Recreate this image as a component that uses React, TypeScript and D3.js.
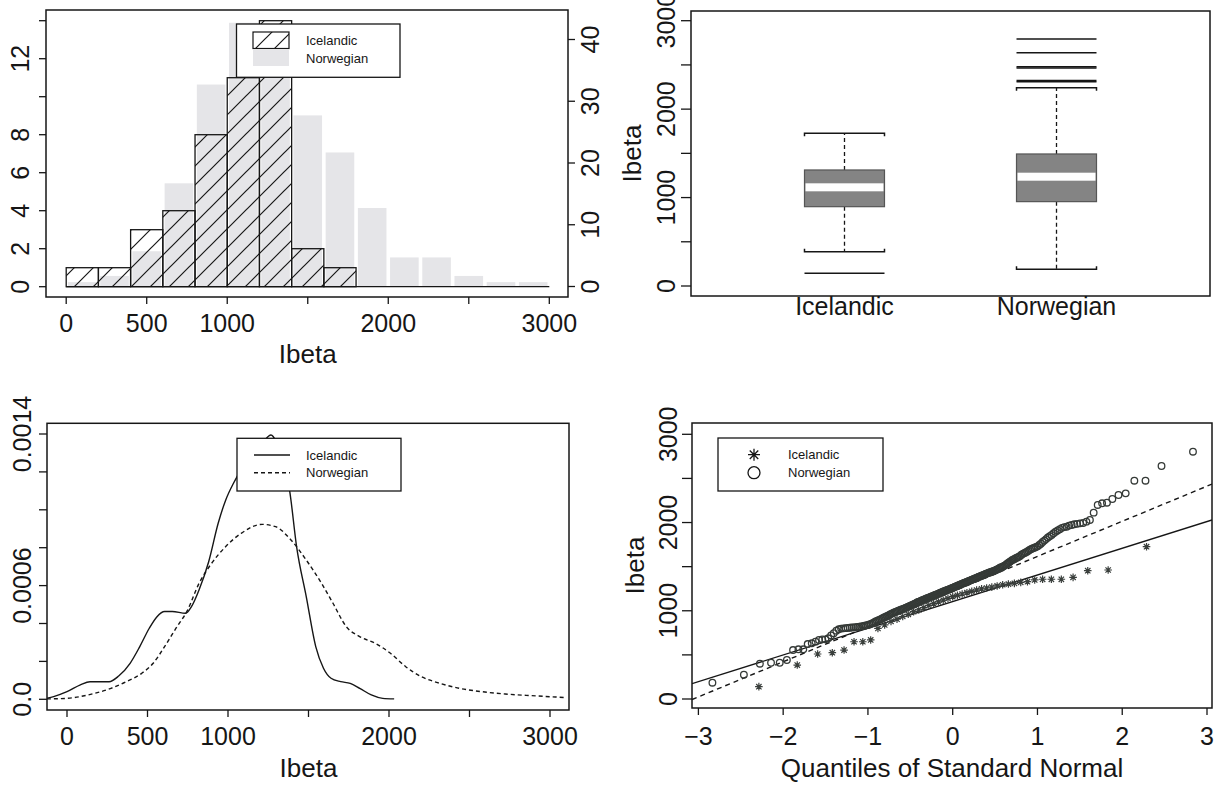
import React from "react";
import * as d3 from "d3";

const FONT = '"Liberation Sans", Arial, Helvetica, sans-serif';
const INK = "#161616";

// ---------------- Panel 1: histograms ----------------
const seriesNames = ["Icelandic", "Norwegian"];
const histBinStarts = [0, 200, 400, 600, 800, 1000, 1200, 1400, 1600, 1800, 2000, 2200, 2400, 2600, 2800];
const histBinWidth = 200;
const icelandicCounts = [1, 1, 3, 4, 8, 11, 14, 2, 1, 0, 0, 0, 0, 0, 0];
const norwegianCounts = [1, 2, 6, 17, 33, 43, 39, 28, 22, 13, 5, 5, 2, 1, 1];
const histXTicks = [0, 500, 1000, 1500, 2000, 2500, 3000];
const histXTickLabels = ["0", "500", "1000", "", "2000", "", "3000"];
const histLeftTicks = [0, 2, 4, 6, 8, 10, 12, 14];
const histLeftTickLabels = ["0", "2", "4", "6", "8", "", "12", ""];
const histRightTicks = [0, 10, 20, 30, 40];
const histRightTickLabels = ["0", "10", "20", "30", "40"];

// ---------------- Panel 2: boxplots ----------------
const boxCategories = ["Icelandic", "Norwegian"];
const boxLowerWhisker = [388, 188];
const boxQ1 = [897, 954];
const boxMedian = [1116, 1236];
const boxQ3 = [1312, 1493];
const boxUpperWhisker = [1726, 2243];
const boxOutliers = [[143], [2310, 2325, 2465, 2478, 2638, 2793]];
const boxYTicks = [0, 500, 1000, 1500, 2000, 2500, 3000];
const boxYTickLabels = ["0", "", "1000", "", "2000", "", "3000"];

// ---------------- Panel 3: densities ----------------
const densIcelandicX = [-125, -83, 0, 83, 143, 202, 261, 321, 392, 452, 511, 559, 606, 654, 737, 773, 820, 880, 939, 986, 1034, 1082, 1150, 1220, 1267, 1330, 1383, 1426, 1486, 1545, 1593, 1640, 1700, 1759, 1818, 1890, 1961, 2032];
const densIcelandicY = [0.000005, 0.000014, 0.00004, 0.000076, 0.000093, 0.000093, 0.000093, 0.000123, 0.00019, 0.000278, 0.000375, 0.000436, 0.000463, 0.000463, 0.000454, 0.000489, 0.000577, 0.000726, 0.000929, 0.001052, 0.00114, 0.00121, 0.00128, 0.00136, 0.001395, 0.00128, 0.0011, 0.000806, 0.000542, 0.000278, 0.000164, 0.000111, 0.000093, 0.000084, 0.000058, 0.000023, 0.000005, 0.000002];
const densNorwegianX = [-125, 0, 131, 273, 368, 464, 535, 606, 677, 749, 820, 891, 986, 1082, 1212, 1295, 1391, 1486, 1581, 1652, 1735, 1818, 1913, 2009, 2104, 2199, 2318, 2436, 2579, 2722, 2912, 3102];
const densNorwegianY = [0.000002, 0.000005, 0.000023, 0.000058, 0.000093, 0.000137, 0.00019, 0.000278, 0.000375, 0.000471, 0.000612, 0.000709, 0.000806, 0.000876, 0.000923, 0.000911, 0.000841, 0.000735, 0.000612, 0.000507, 0.000383, 0.000331, 0.000296, 0.000243, 0.000172, 0.00012, 0.000084, 0.000058, 0.00004, 0.000028, 0.000018, 0.000009];
const densYTicks = [0, 0.0002, 0.0004, 0.0006, 0.0008, 0.001, 0.0012, 0.0014];
const densYTickLabels = ["0.0", "", "", "0.0006", "", "", "", "0.0014"];

// ---------------- Panel 4: normal QQ ----------------
const qqIcelandic = [140, 385, 510, 525, 555, 649, 649, 669, 800, 840,
  880, 905, 935, 960, 990, 1010, 1035, 1060, 1080, 1100,
  1120, 1140, 1160, 1175, 1190, 1205, 1220, 1235, 1248, 1258,
  1268, 1281, 1295, 1303, 1311, 1322, 1330, 1349, 1357, 1357,
  1357, 1379, 1454, 1462, 1726];
const qqNorwegian = [185, 275, 400, 411, 411, 442, 555, 563, 563, 623, 631, 650, 669, 676, 676, 688, 720, 745, 774, 790,
  798, 801, 803, 806, 808, 810, 812, 815, 818, 820, 823, 826, 830, 835, 840, 845, 852, 860, 868, 878,
  886, 893, 900, 908, 915, 923, 930, 938, 945, 952, 960, 968, 975, 981, 987, 993, 998, 1004, 1009, 1014,
  1019, 1024, 1030, 1036, 1041, 1047, 1052, 1058, 1063, 1069, 1075, 1081, 1087, 1093, 1099, 1104, 1109, 1114, 1119, 1124,
  1129, 1134, 1139, 1143, 1148, 1152, 1157, 1162, 1166, 1171, 1176, 1180, 1185, 1189, 1194, 1199, 1204, 1208, 1213, 1218,
  1222, 1227, 1231, 1235, 1240, 1244, 1248, 1253, 1258, 1262, 1267, 1272, 1276, 1281, 1286, 1291, 1295, 1300, 1305, 1309,
  1314, 1318, 1323, 1328, 1333, 1337, 1342, 1347, 1351, 1356, 1360, 1365, 1370, 1375, 1380, 1385, 1389, 1394, 1399, 1404,
  1409, 1414, 1419, 1424, 1428, 1433, 1437, 1442, 1446, 1451, 1455, 1462, 1468, 1475, 1482, 1490, 1495, 1500, 1508, 1515,
  1525, 1535, 1545, 1555, 1566, 1575, 1582, 1590, 1598, 1605, 1612, 1620, 1635, 1645, 1652, 1660, 1670, 1680, 1692, 1700,
  1708, 1715, 1722, 1730, 1745, 1760, 1780, 1795, 1812, 1830, 1845, 1860, 1878, 1895, 1910, 1925, 1940, 1948, 1953, 1965,
  1972, 1980, 1985, 1991, 1995, 2010, 2029, 2112, 2199, 2218, 2225, 2267, 2312, 2331, 2474, 2474, 2641, 2803];
const qqLineIntercept = [1104, 1218];
const qqLineSlope = [302.5, 398];
const qqXTicks = [-3, -2, -1, 0, 1, 2, 3];
const qqXTickLabels = ["\u22123", "\u22122", "\u22121", "0", "1", "2", "3"];
const qqYTicks = [0, 500, 1000, 1500, 2000, 2500, 3000];
const qqYTickLabels = ["0", "", "1000", "", "2000", "", "3000"];

// inverse standard normal CDF (Acklam)
function qnorm(p: number): number {
  const a = [-3.969683028665376e1, 2.209460984245205e2, -2.759285104469687e2, 1.38357751867269e2, -3.066479806614716e1, 2.506628277459239];
  const b = [-5.447609879822406e1, 1.615858368580409e2, -1.556989798598866e2, 6.680131188771972e1, -1.328068155288572e1];
  const c = [-7.784894002430293e-3, -3.223964580411365e-1, -2.400758277161838, -2.549732539343734, 4.374664141464968, 2.938163982698783];
  const d = [7.784695709041462e-3, 3.224671290700398e-1, 2.445134137142996, 3.754408661907416];
  const pl = 0.02425;
  if (p < pl) {
    const q = Math.sqrt(-2 * Math.log(p));
    return (((((c[0] * q + c[1]) * q + c[2]) * q + c[3]) * q + c[4]) * q + c[5]) / ((((d[0] * q + d[1]) * q + d[2]) * q + d[3]) * q + 1);
  }
  if (p > 1 - pl) {
    const q = Math.sqrt(-2 * Math.log(1 - p));
    return -(((((c[0] * q + c[1]) * q + c[2]) * q + c[3]) * q + c[4]) * q + c[5]) / ((((d[0] * q + d[1]) * q + d[2]) * q + d[3]) * q + 1);
  }
  const q = p - 0.5;
  const r = q * q;
  return ((((((a[0] * r + a[1]) * r + a[2]) * r + a[3]) * r + a[4]) * r + a[5]) * q) / (((((b[0] * r + b[1]) * r + b[2]) * r + b[3]) * r + b[4]) * r + 1);
}
const ppoints = (n: number) => d3.range(n).map((i) => (i + 0.5) / n);

const HText = ({ x, y, size = 25, anchor = "middle", children }: any) => (
  <text x={x} y={y} fontSize={size} textAnchor={anchor} fill={INK} fontFamily={FONT}>{children}</text>
);
const VText = ({ x, y, size = 25, children }: any) => (
  <text transform={`translate(${x},${y}) rotate(-90)`} fontSize={size} textAnchor="middle" fill={INK} fontFamily={FONT}>{children}</text>
);

const Asterisk = ({ x, y, s, color, w = 1 }: any) => {
  const k = s * 0.7071;
  return (
    <path d={`M${x},${y - s}L${x},${y + s}M${x - s},${y}L${x + s},${y}M${x - k},${y - k}L${x + k},${y + k}M${x - k},${y + k}L${x + k},${y - k}`} stroke={color} strokeWidth={w} fill="none" />
  );
};

export default function App() {
  // ---- Panel 1 scales
  const hX = d3.scaleLinear().domain([0, 3000]).range([66.2, 549.3]);
  const hYL = d3.scaleLinear().domain([0, 14]).range([286.7, 20.7]);
  const hYR = d3.scaleLinear().domain([0, 40]).range([286.5, 39.5]);
  const f1 = { l: 46, r: 568, t: 10, b: 297 };

  // ---- Panel 2
  const bY = d3.scaleLinear().domain([0, 3000]).range([286, 20.7]);
  const bX = d3.scalePoint<string>().domain(boxCategories).range([691, 1210]).padding(0.724);
  const f2 = { l: 691, r: 1210, t: 11, b: 296 };
  const half = 40;

  // ---- Panel 3
  const dX = d3.scaleLinear().domain([0, 3000]).range([67, 550]);
  const dY = d3.scaleLinear().domain([0, 0.0014]).range([699.3, 434]);
  const f3 = { l: 47, r: 569, t: 423.3, b: 710 };
  const dLine = d3.line<number>().curve(d3.curveMonotoneX);
  const icePath = dLine(densIcelandicX.map((x, i) => [dX(x), dY(densIcelandicY[i])]) as any);
  const norPath = dLine(densNorwegianX.map((x, i) => [dX(x), dY(densNorwegianY[i])]) as any);

  // ---- Panel 4
  const qX = d3.scaleLinear().domain([-3, 3]).range([698.4, 1207]);
  const qY = d3.scaleLinear().domain([0, 3000]).range([699, 434.3]);
  const f4 = { l: 692, r: 1212, t: 423, b: 708 };
  const iceSorted = [...qqIcelandic].sort((a, b) => a - b);
  const norSorted = [...qqNorwegian].sort((a, b) => a - b);
  const iceQ = ppoints(iceSorted.length).map(qnorm);
  const norQ = ppoints(norSorted.length).map(qnorm);
  const qLeft = qX.invert(f4.l);
  const qRight = qX.invert(f4.r);

  const frame = (f: any) => (
    <rect x={f.l} y={f.t} width={f.r - f.l} height={f.b - f.t} fill="none" stroke={INK} strokeWidth={1.5} />
  );

  return (
    <svg width={1222} height={785} style={{ position: "absolute", left: 0, top: 0, background: "#fff" }}>
      <defs>
        <pattern id="hatch" patternUnits="userSpaceOnUse" width={19} height={19}>
          <path d="M-2,2L2,-2M0,19L19,0M17,21L21,17" stroke={INK} strokeWidth={1.2} />
        </pattern>
        <clipPath id="clip3"><rect x={f3.l} y={f3.t} width={f3.r - f3.l} height={f3.b - f3.t} /></clipPath>
        <clipPath id="clip4"><rect x={f4.l} y={f4.t} width={f4.r - f4.l} height={f4.b - f4.t} /></clipPath>
      </defs>
      <rect x={0} y={0} width={1222} height={785} fill="#fff" />

      {/* ================= Panel 1 ================= */}
      <g>
        {histBinStarts.map((s, i) =>
          norwegianCounts[i] > 0 ? (
            <rect key={"n" + i} x={hX(s) + 1.8} width={hX(s + histBinWidth) - hX(s) - 3.6}
              y={hYR(norwegianCounts[i]) + 1.8} height={hYR(0) - hYR(norwegianCounts[i]) - 1.8}
              fill="#e5e5e8" />
          ) : null
        )}
        <line x1={hX(0)} x2={hX(3000)} y1={hYL(0)} y2={hYL(0)} stroke={INK} strokeWidth={1.3} />
        {histBinStarts.map((s, i) =>
          icelandicCounts[i] > 0 ? (
            <rect key={"i" + i} x={hX(s)} width={hX(s + histBinWidth) - hX(s)}
              y={hYL(icelandicCounts[i])} height={hYL(0) - hYL(icelandicCounts[i])}
              fill="url(#hatch)" stroke={INK} strokeWidth={1.3} />
          ) : null
        )}
        {frame(f1)}
        {histLeftTicks.map((t, i) => (
          <g key={"lt" + i}>
            <line x1={39} x2={f1.l} y1={hYL(t)} y2={hYL(t)} stroke={INK} strokeWidth={1.3} />
            {histLeftTickLabels[i] && <VText x={29} y={hYL(t)}>{histLeftTickLabels[i]}</VText>}
          </g>
        ))}
        {histRightTicks.map((t, i) => (
          <g key={"rt" + i}>
            <line x1={f1.r} x2={575} y1={hYR(t)} y2={hYR(t)} stroke={INK} strokeWidth={1.3} />
            <VText x={599} y={hYR(t)}>{histRightTickLabels[i]}</VText>
          </g>
        ))}
        {histXTicks.map((t, i) => (
          <g key={"xt" + i}>
            <line x1={hX(t)} x2={hX(t)} y1={f1.b} y2={f1.b + 7} stroke={INK} strokeWidth={1.3} />
            {histXTickLabels[i] && <HText x={hX(t)} y={332}>{histXTickLabels[i]}</HText>}
          </g>
        ))}
        <HText x={(hX(0) + hX(3000)) / 2} y={363} size={26}>Ibeta</HText>
        {/* legend */}
        <rect x={236.5} y={24} width={163.5} height={53.3} fill="#fff" stroke={INK} strokeWidth={1.3} />
        <rect x={253} y={32} width={36} height={16.5} fill="url(#hatch)" stroke={INK} strokeWidth={1.2} />
        <rect x={253} y={49.5} width={36} height={16.5} fill="#e5e5e8" />
        <HText x={306} y={44.5} size={13} anchor="start">{seriesNames[0]}</HText>
        <HText x={306} y={63} size={13} anchor="start">{seriesNames[1]}</HText>
      </g>

      {/* ================= Panel 2 ================= */}
      <g>
        {frame(f2)}
        {boxYTicks.map((t, i) => (
          <g key={"by" + i}>
            <line x1={681} x2={f2.l} y1={bY(t)} y2={bY(t)} stroke={INK} strokeWidth={1.3} />
            {boxYTickLabels[i] && <VText x={675} y={bY(t)}>{boxYTickLabels[i]}</VText>}
          </g>
        ))}
        <VText x={641} y={(f2.t + f2.b) / 2} size={26}>Ibeta</VText>
        {boxCategories.map((c, i) => {
          const cx = bX(c) as number;
          return (
            <g key={"bx" + i}>
              <line x1={cx} x2={cx} y1={bY(boxQ3[i])} y2={bY(boxUpperWhisker[i])} stroke={INK} strokeWidth={1.3} strokeDasharray="4,3" />
              <line x1={cx} x2={cx} y1={bY(boxQ1[i])} y2={bY(boxLowerWhisker[i])} stroke={INK} strokeWidth={1.3} strokeDasharray="4,3" />
              <path d={`M${cx - half},${bY(boxUpperWhisker[i]) + 3}V${bY(boxUpperWhisker[i])}H${cx + half}V${bY(boxUpperWhisker[i]) + 3}`} fill="none" stroke={INK} strokeWidth={1.5} />
              <path d={`M${cx - half},${bY(boxLowerWhisker[i]) - 3}V${bY(boxLowerWhisker[i])}H${cx + half}V${bY(boxLowerWhisker[i]) - 3}`} fill="none" stroke={INK} strokeWidth={1.5} />
              <rect x={cx - half} width={2 * half} y={bY(boxQ3[i])} height={bY(boxQ1[i]) - bY(boxQ3[i])} fill="#848484" stroke="#555" strokeWidth={1.2} />
              <rect x={cx - half + 1} width={2 * half - 2} y={bY(boxMedian[i]) - 4} height={8} fill="#fff" />
              {boxOutliers[i].map((o, j) => (
                <line key={j} x1={cx - half} x2={cx + half} y1={bY(o)} y2={bY(o)} stroke={INK} strokeWidth={1.5} />
              ))}
              <HText x={cx} y={315}>{c}</HText>
            </g>
          );
        })}
      </g>

      {/* ================= Panel 3 ================= */}
      <g>
        <g clipPath="url(#clip3)">
          <path d={icePath || ""} fill="none" stroke={INK} strokeWidth={1.4} />
          <path d={norPath || ""} fill="none" stroke={INK} strokeWidth={1.4} strokeDasharray="4,3" />
        </g>
        {frame(f3)}
        {densYTicks.map((t, i) => (
          <g key={"dy" + i}>
            <line x1={39} x2={f3.l} y1={dY(t)} y2={dY(t)} stroke={INK} strokeWidth={1.3} />
            {densYTickLabels[i] && <VText x={31} y={dY(t)}>{densYTickLabels[i]}</VText>}
          </g>
        ))}
        {histXTicks.map((t, i) => (
          <g key={"dx" + i}>
            <line x1={dX(t)} x2={dX(t)} y1={f3.b} y2={f3.b + 7} stroke={INK} strokeWidth={1.3} />
            {histXTickLabels[i] && <HText x={dX(t)} y={745}>{histXTickLabels[i]}</HText>}
          </g>
        ))}
        <HText x={(dX(0) + dX(3000)) / 2} y={777} size={26}>Ibeta</HText>
        <rect x={237} y={438.3} width={164} height={52.7} fill="#fff" stroke={INK} strokeWidth={1.3} />
        <line x1={254} x2={290} y1={455} y2={455} stroke={INK} strokeWidth={1.4} />
        <line x1={254} x2={290} y1={472.7} y2={472.7} stroke={INK} strokeWidth={1.4} strokeDasharray="4,3" />
        <HText x={306} y={459.5} size={13} anchor="start">{seriesNames[0]}</HText>
        <HText x={306} y={477.2} size={13} anchor="start">{seriesNames[1]}</HText>
      </g>

      {/* ================= Panel 4 ================= */}
      <g>
        <g clipPath="url(#clip4)">
          <line x1={qX(qLeft)} x2={qX(qRight)}
            y1={qY(qqLineIntercept[0] + qqLineSlope[0] * qLeft)} y2={qY(qqLineIntercept[0] + qqLineSlope[0] * qRight)}
            stroke={INK} strokeWidth={1.4} />
          <line x1={qX(qLeft)} x2={qX(qRight)}
            y1={qY(qqLineIntercept[1] + qqLineSlope[1] * qLeft)} y2={qY(qqLineIntercept[1] + qqLineSlope[1] * qRight)}
            stroke={INK} strokeWidth={1.4} strokeDasharray="5,4" />
          {norSorted.map((v, i) => (
            <circle key={"nc" + i} cx={qX(norQ[i])} cy={qY(v)} r={3.3} fill="none" stroke="#353a37" strokeWidth={1.3} />
          ))}
          {iceSorted.map((v, i) => (
            <Asterisk key={"ia" + i} x={qX(iceQ[i])} y={qY(v)} s={3.8} color="#3a3f3c" w={1.2} />
          ))}
        </g>
        {frame(f4)}
        {qqYTicks.map((t, i) => (
          <g key={"qy" + i}>
            <line x1={682} x2={f4.l} y1={qY(t)} y2={qY(t)} stroke={INK} strokeWidth={1.3} />
            {qqYTickLabels[i] && <VText x={677} y={qY(t)}>{qqYTickLabels[i]}</VText>}
          </g>
        ))}
        {qqXTicks.map((t, i) => (
          <g key={"qx" + i}>
            <line x1={qX(t)} x2={qX(t)} y1={f4.b} y2={f4.b + 7} stroke={INK} strokeWidth={1.3} />
            <HText x={qX(t)} y={745}>{qqXTickLabels[i]}</HText>
          </g>
        ))}
        <VText x={644} y={(f4.t + f4.b) / 2} size={26}>Ibeta</VText>
        <HText x={(f4.l + f4.r) / 2} y={777} size={26}>Quantiles of Standard Normal</HText>
        <rect x={718} y={438} width={165} height={53} fill="#fff" stroke={INK} strokeWidth={1.3} />
        <Asterisk x={754} y={454.7} s={6} color={INK} w={1.3} />
        <circle cx={754} cy={472.7} r={6} fill="none" stroke={INK} strokeWidth={1.3} />
        <HText x={788} y={459.2} size={13} anchor="start">{seriesNames[0]}</HText>
        <HText x={788} y={477.2} size={13} anchor="start">{seriesNames[1]}</HText>
      </g>
    </svg>
  );
}
